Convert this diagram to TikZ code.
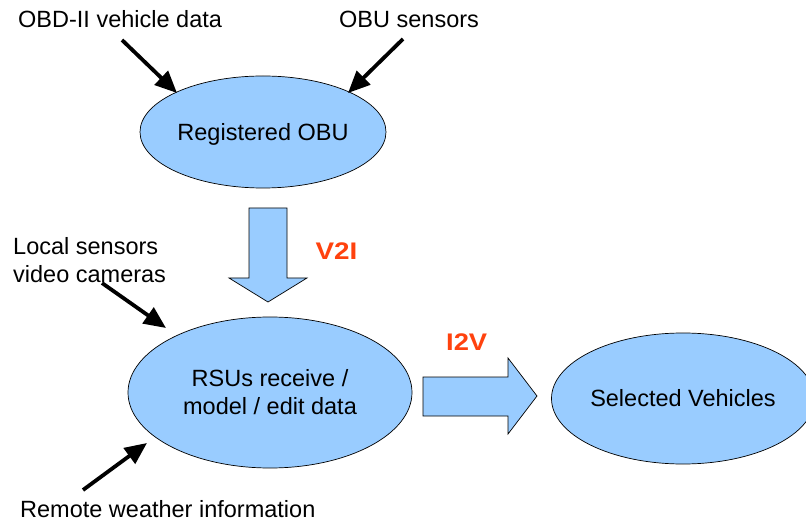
\documentclass[tikz,border=0pt]{standalone}
\usepackage{fontspec}
\setmainfont{Liberation Sans}
\usetikzlibrary{arrows.meta,calc,shapes.geometric}
\definecolor{blobfill}{HTML}{99CCFF}
\definecolor{linkred}{HTML}{FF420E}
\tikzset{
  blob/.style={ellipse,draw=black,line width=0.7pt,fill=blobfill,inner sep=0pt,
    font=\fontsize{23.5}{28}\selectfont,align=center},
  lbl/.style={inner sep=0pt,font=\fontsize{23.5}{28}\selectfont},
  feed/.style={line width=3.8pt,-{Triangle[length=22pt,width=19pt]}},
  bigarrow/.style={draw=black,line width=0.7pt,fill=blobfill,line join=miter},
  linklbl/.style={inner sep=0pt,text=linkred,font=\fontsize{24}{28}\selectfont\bfseries}
}
\begin{document}
\begin{tikzpicture}[x=1pt,y=-1pt]
\useasboundingbox (0,0) rectangle (806,521);
\clip (0,0) rectangle (806,521);

% processing stages
\node[blob,minimum width=246pt,minimum height=112pt,text depth=0pt] (obu) at (263,132) {Registered OBU};
\node[blob,minimum width=284pt,minimum height=151pt] (rsu) at (270,392.5) {RSUs receive /\\model / edit data};
\node[blob,minimum width=263pt,minimum height=131pt] (veh) at (683,398.5) {Selected Vehicles};

% data sources
\node[lbl,anchor=base west] (obd) at (18,28) {OBD-II vehicle data};
\node[lbl,anchor=base west] (obus) at (339,28) {OBU sensors};
\node[lbl,anchor=base west,align=left] (loc) at (13,283) {Local sensors\\video cameras};
\node[lbl,anchor=base west] (wx) at (20,517) {Remote weather information};

% feeds into the stages
\coordinate (obdT) at (122,40);
\coordinate (obusT) at (403,39);
\coordinate (locT) at (102,283);
\coordinate (wxT) at (83,490);
\draw[feed] (obdT) -- ($(obu.center)+(-86,-39)$);
\draw[feed] (obusT) -- ($(obu.center)+(85,-39)$);
\draw[feed] (locT) -- ($(rsu.center)+(-104,-64.5)$);
\draw[feed] (wxT) -- ($(rsu.center)+(-123,50.5)$);

% V2I block arrow
\draw[bigarrow] (249,208) -- (287,208) -- (287,278) -- (307,278) -- (268,302)
  -- (229,278) -- (249,278) -- cycle;
\node[linklbl,anchor=base] (v2i) at (336.5,259.3) {\scalebox{1.16}[1]{V2I}};

% I2V block arrow
\draw[bigarrow] (423,377) -- (508,377) -- (508,358) -- (537,396) -- (508,434)
  -- (508,416) -- (423,416) -- cycle;
\node[linklbl,anchor=base] (i2v) at (466.7,350.7) {\scalebox{1.14}[1]{I2V}};
\end{tikzpicture}
\end{document}
